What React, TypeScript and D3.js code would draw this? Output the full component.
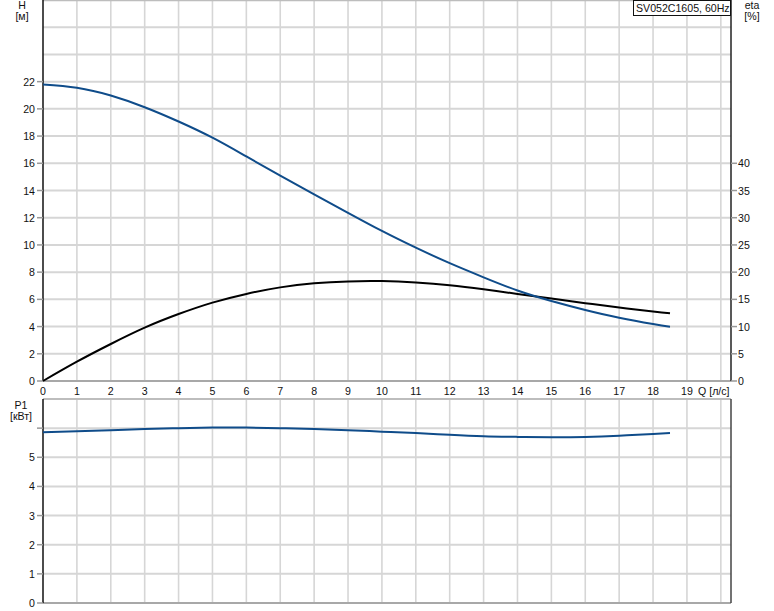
import React from "react";
import * as d3 from "d3";

const qValues = [0, 1, 2, 3, 4, 5, 6, 7, 8, 9, 10, 11, 12, 13, 14, 15, 16, 17, 18, 18.5];
const headValues = [21.79, 21.55, 20.98, 20.12, 19.07, 17.88, 16.5, 15.1, 13.72, 12.36, 11.03, 9.8, 8.66, 7.62, 6.65, 5.88, 5.22, 4.65, 4.19, 3.99];
const etaValues = [0, 3.55, 6.8, 9.8, 12.3, 14.4, 16.0, 17.2, 17.95, 18.3, 18.35, 18.1, 17.6, 16.85, 16.0, 15.15, 14.3, 13.5, 12.75, 12.45];
const p1Values = [5.86, 5.89, 5.93, 5.97, 6.0, 6.02, 6.02, 6.0, 5.97, 5.93, 5.88, 5.83, 5.77, 5.72, 5.7, 5.69, 5.7, 5.74, 5.8, 5.83];

const qTicks = [0, 1, 2, 3, 4, 5, 6, 7, 8, 9, 10, 11, 12, 13, 14, 15, 16, 17, 18, 19];
const qGrid = [1, 2, 3, 4, 5, 6, 7, 8, 9, 10, 11, 12, 13, 14, 15, 16, 17, 18, 19, 20];
const hTicks = [0, 2, 4, 6, 8, 10, 12, 14, 16, 18, 20, 22];
const hGrid = [2, 4, 6, 8, 10, 12, 14, 16, 18, 20, 22, 24, 26, 28];
const etaTicks = [0, 5, 10, 15, 20, 25, 30, 35, 40];
const pTicks = [0, 1, 2, 3, 4, 5];
const pTickMarks = [0, 1, 2, 3, 4, 5, 6];
const pGrid = [1, 2, 3, 4, 5, 6, 7];

const legendText = "SV052C1605, 60Hz";

export default function App() {
  const left = 43, right = 731;
  const topT = 0, botT = 381;
  const topB = 399, botB = 603;
  const x = d3.scaleLinear().domain([0, 20.3]).range([left, right]);
  const yH = d3.scaleLinear().domain([0, 28]).range([botT, topT]);
  const yEta = d3.scaleLinear().domain([0, 70]).range([botT, topT]);
  const yP = d3.scaleLinear().domain([0, 7]).range([botB, topB]);

  const idx = qValues.map((_, i) => i);
  const lineH = d3.line<number>().x(i => x(qValues[i])).y(i => yH(headValues[i])).curve(d3.curveNatural);
  const lineEta = d3.line<number>().x(i => x(qValues[i])).y(i => yEta(etaValues[i])).curve(d3.curveNatural);
  const lineP = d3.line<number>().x(i => x(qValues[i])).y(i => yP(p1Values[i])).curve(d3.curveNatural);

  const font = "'Liberation Sans', Arial, sans-serif";
  const grid = "#d6d6d6";
  const blue = "#0f4c8a";

  return (
    <svg width={774} height={611} style={{ position: "absolute", left: 0, top: 0, background: "#fff" }} fontFamily={font} fontSize={10.6}>
      <rect x={0} y={0} width={774} height={611} fill="#fff" />
      {/* top panel grid */}
      {qGrid.map(q => (
        <line key={"vt" + q} x1={x(q)} x2={x(q)} y1={topT} y2={botT} stroke={grid} strokeWidth={1.6} />
      ))}
      {hGrid.map(h => (
        <line key={"ht" + h} x1={left} x2={right} y1={yH(h)} y2={yH(h)} stroke={grid} strokeWidth={2} />
      ))}
      {/* bottom panel grid */}
      {qGrid.map(q => (
        <line key={"vb" + q} x1={x(q)} x2={x(q)} y1={topB} y2={botB} stroke={grid} strokeWidth={1.6} />
      ))}
      {pGrid.map(p => (
        <line key={"hb" + p} x1={left} x2={right} y1={yP(p)} y2={yP(p)} stroke={p === 7 ? "#bdbdbd" : grid} strokeWidth={2} />
      ))}
      <line x1={left} x2={right} y1={topT + 0.5} y2={topT + 0.5} stroke="#bdbdbd" strokeWidth={1.5} />

      {/* axes */}
      <line x1={left} x2={right} y1={botT} y2={botT} stroke="#a8a8a8" strokeWidth={2} />
      <line x1={left} x2={right} y1={botB} y2={botB} stroke="#a8a8a8" strokeWidth={2} />
      <line x1={left} x2={left} y1={topT} y2={botT} stroke="#111" strokeWidth={1.5} />
      <line x1={left} x2={left} y1={topB} y2={botB} stroke="#111" strokeWidth={1.5} />
      <line x1={right} x2={right} y1={topT} y2={botT} stroke="#222" strokeWidth={1.5} />
      <line x1={right} x2={right} y1={topB} y2={botB} stroke="#444" strokeWidth={1.5} />

      {/* left H ticks */}
      {hTicks.map(h => (
        <g key={"hl" + h}>
          <line x1={left - 6} x2={left} y1={yH(h)} y2={yH(h)} stroke="#999" strokeWidth={1.5} />
          <text x={35} y={yH(h) + 4} textAnchor="end" fill="#111">{h}</text>
        </g>
      ))}
      {/* right eta ticks */}
      {etaTicks.map(e => (
        <g key={"er" + e}>
          <line x1={right} x2={right + 6} y1={yEta(e)} y2={yEta(e)} stroke="#999" strokeWidth={1.5} />
          <text x={738} y={yEta(e) + 4} textAnchor="start" fill="#111">{e}</text>
        </g>
      ))}
      {/* q ticks */}
      {qTicks.map(q => (
        <text key={"q" + q} x={x(q)} y={395} textAnchor="middle" fill="#111">{q}</text>
      ))}
      <text x={698} y={395} fill="#111">Q [л/с]</text>

      {/* P ticks */}
      {pTickMarks.map(p => (
        <line key={"pm" + p} x1={left - 6} x2={left} y1={yP(p)} y2={yP(p)} stroke="#999" strokeWidth={1.5} />
      ))}
      {pTicks.map(p => (
        <text key={"pl" + p} x={35} y={yP(p) + 4} textAnchor="end" fill="#111">{p}</text>
      ))}

      {/* axis titles */}
      <text x={22} y={9} textAnchor="middle" fill="#111">H</text>
      <text x={22} y={20} textAnchor="middle" fill="#111">[м]</text>
      <text x={752} y={9} textAnchor="middle" fill="#111">eta</text>
      <text x={752} y={20} textAnchor="middle" fill="#111">[%]</text>
      <text x={21} y={409} textAnchor="middle" fill="#111">P1</text>
      <text x={21} y={420} textAnchor="middle" fill="#111">[кВт]</text>

      {/* curves */}
      <path d={lineEta(idx) || ""} fill="none" stroke="#000" strokeWidth={2} />
      <path d={lineH(idx) || ""} fill="none" stroke={blue} strokeWidth={2} />
      <path d={lineP(idx) || ""} fill="none" stroke={blue} strokeWidth={2} />

      {/* legend */}
      <rect x={633.5} y={0.5} width={97} height={15} fill="#fff" stroke="#111" strokeWidth={1} />
      <text x={636} y={12} fill="#111">{legendText}</text>
    </svg>
  );
}
